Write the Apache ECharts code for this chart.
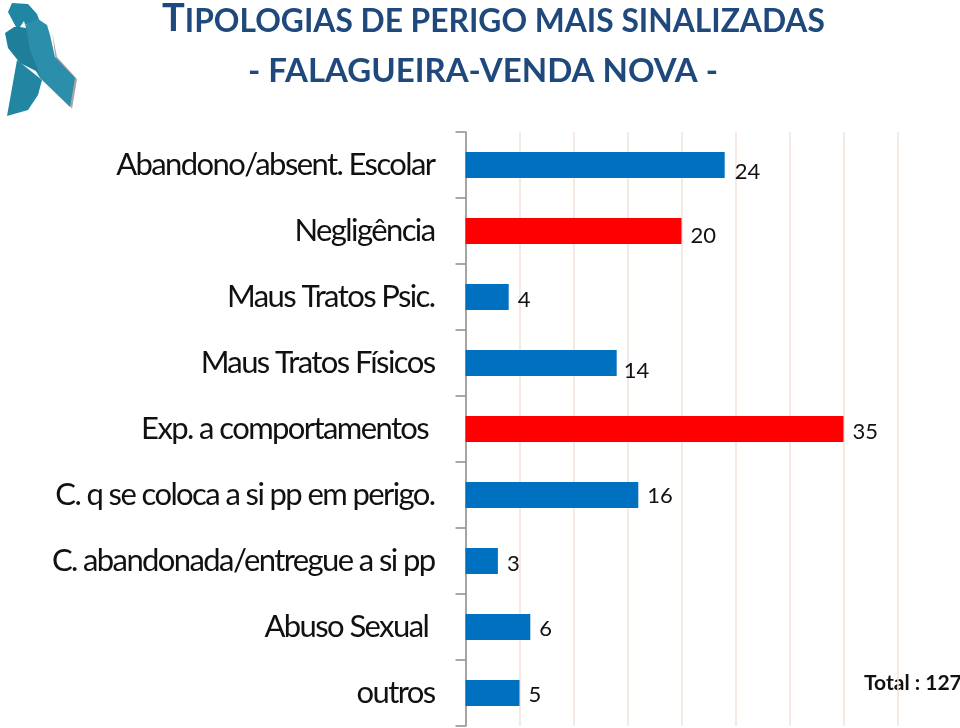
<!DOCTYPE html>
<html>
<head>
<meta charset="utf-8">
<style>
  html, body { margin: 0; padding: 0; background: #fff; }
  #main { width: 960px; height: 728px; }
</style>
<script src="https://cdn.jsdelivr.net/npm/echarts@6/dist/echarts.min.js"></script>
</head>
<body>
<div id="main"></div>
<script>
  // categorias (alguns nomes têm espaço no fim, como no original)
  var categories = ['Abandono/absent. Escolar', 'Negligência', 'Maus Tratos Psic.', 'Maus Tratos Físicos',
    'Exp. a comportamentos\u00a0', 'C. q se coloca a si pp em perigo.', 'C. abandonada/entregue a si pp',
    'Abuso Sexual\u00a0', 'outros'];
  var values = [24, 20, 4, 14, 35, 16, 3, 6, 5];
  var highlighted = ['Negligência', 'Exp. a comportamentos\u00a0'];
  var titleLines = ['IPOLOGIAS DE PERIGO MAIS SINALIZADAS', '- FALAGUEIRA-VENDA NOVA -'];
  var totalLabel = 'Total : 127';

  // ajuste fino dos rótulos de valor, em px
  var labelNudgeX = [1, 0, 0, -2, 0, 0, 0, 0, 0];
  var labelNudgeY = [7, 5, 3, 8, 3, 1, 3, 2, 2];

  // os rótulos do eixo têm o texto bem apertado
  var fillText = CanvasRenderingContext2D.prototype.fillText;
  CanvasRenderingContext2D.prototype.fillText = function (t, x, y, m) {
    this.letterSpacing = categories.indexOf(t) >= 0 ? '-1.6px' : '0px';
    return m === undefined ? fillText.call(this, t, x, y) : fillText.call(this, t, x, y, m);
  };

  var myChart = echarts.init(document.getElementById('main'));

  var option = {
    animation: false,
    backgroundColor: '#fff',
    grid: { left: 465.5, top: 132, width: 432, height: 594, outerBoundsMode: 'none' },
    xAxis: {
      type: 'value',
      min: 0,
      max: 40,
      interval: 5,
      axisLine: { show: false },
      axisTick: { show: false },
      axisLabel: { show: false },
      splitLine: { show: true, lineStyle: { color: '#f2e2da', width: 1.5 } }
    },
    yAxis: {
      type: 'category',
      inverse: true,
      data: categories,
      axisLine: { show: true, lineStyle: { color: '#8c8c8c', width: 1.5 } },
      axisTick: { show: true, length: 10, lineStyle: { color: '#8c8c8c', width: 1.5 } },
      axisLabel: {
        margin: 31,
        fontFamily: 'Lato',
        fontSize: 31,
        color: '#111'
      }
    },
    series: [{
      type: 'bar',
      barWidth: 26,
      data: values.map(function (v, i) {
        return {
          value: v,
          itemStyle: { color: highlighted.indexOf(categories[i]) >= 0 ? '#ff0000' : '#0070c0' },
          label: { offset: [labelNudgeX[i], labelNudgeY[i]] }
        };
      }),
      label: {
        show: true,
        position: 'right',
        distance: 9,
        fontFamily: 'Lato',
        fontSize: 22,
        color: '#111'
      }
    }],
    graphic: [
      // laço azul
      { type: 'polygon', shape: { points: [[52, 32], [57, 57], [77, 79], [72, 109], [60, 90]] }, style: { fill: '#a9a3a6' } },
      { type: 'polygon', shape: { points: [[17, 60], [7, 116], [28, 110], [38, 95], [42, 80]] }, style: { fill: '#2286a3' } },
      { type: 'polygon', shape: { points: [[12, 3], [28, 4], [37, 14], [40, 22], [27, 24], [20, 27], [16, 27], [8, 12]] }, style: { fill: '#1f86a3' } },
      { type: 'polygon', shape: { points: [[25, 25], [38, 19], [47, 25], [50, 35], [55, 57], [75, 78], [70, 107], [40, 78], [28, 58], [26, 40]] }, style: { fill: '#2b8fab' } },
      { type: 'polygon', shape: { points: [[5, 33], [14, 27], [26, 27], [30, 50], [42, 80], [38, 72], [20, 63], [8, 48]] }, style: { fill: '#1f7f9a' } },
      { type: 'polygon', shape: { points: [[20, 27], [24, 21], [26, 28]] }, style: { fill: '#fff' } },
      // título
      {
        type: 'text', x: 162, y: 0,
        style: {
          text: '{big|T}{small|' + titleLines[0] + '}',
          rich: {
            big: { fontFamily: 'Lato', fontWeight: 'bold', fontSize: 38, fill: '#1f497d', verticalAlign: 'bottom' },
            small: { fontFamily: 'Lato', fontWeight: 'bold', fontSize: 31.75, fill: '#1f497d', verticalAlign: 'bottom' }
          }
        }
      },
      {
        type: 'text', x: 483, y: 55,
        style: {
          text: titleLines[1],
          fontFamily: 'Lato', fontWeight: 'bold', fontSize: 33, fill: '#1f497d', align: 'center'
        }
      },
      {
        type: 'text', x: 864, y: 673,
        style: { text: totalLabel, fontFamily: 'Lato', fontWeight: 'bold', fontSize: 21, fill: '#111' }
      }
    ]
  };

  myChart.setOption(option);

  window.addEventListener('resize', function () { myChart.resize(); });
</script>
</body>
</html>
